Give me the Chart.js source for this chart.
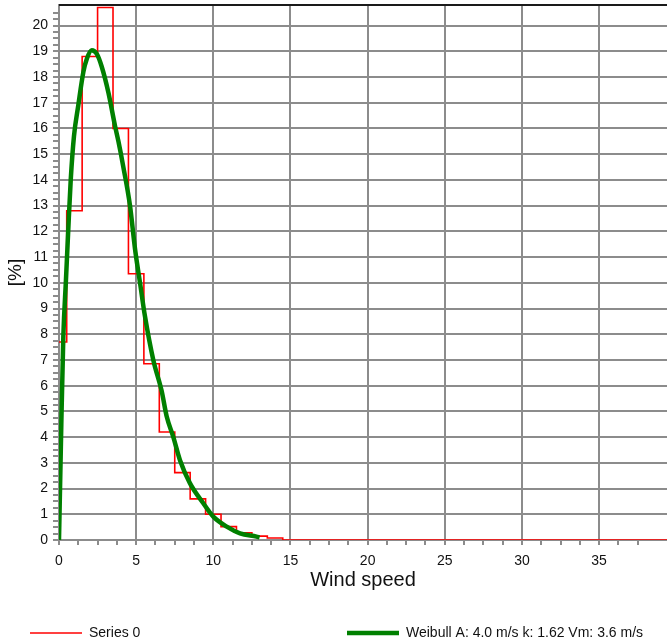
<!DOCTYPE html>
<html>
<head>
<meta charset="utf-8">
<script src="https://cdn.jsdelivr.net/npm/chart.js@4.4.1/dist/chart.umd.min.js"></script>
<style>
  html, body { margin: 0; padding: 0; background: #fff; }
  #wrap { width: 667px; height: 642px; position: relative; }
</style>
</head>
<body>
<div id="wrap"><canvas id="c"></canvas></div>
<script>
// histogram of measured wind speed, one bin per m/s (bin centre -> percent)
const binCenters = [0, 1, 2, 3, 4, 5, 6, 7, 8, 9, 10, 11, 12, 13, 14, 15, 16, 17, 18, 19, 20,
  21, 22, 23, 24, 25, 26, 27, 28, 29, 30, 31, 32, 33, 34, 35, 36, 37, 38, 39, 40];
const binPercent = [7.7, 12.8, 18.8, 20.7, 16.0, 10.35, 6.85, 4.2, 2.62, 1.6, 1.0, 0.52, 0.28, 0.15, 0.08, 0, 0, 0, 0, 0, 0,
  0, 0, 0, 0, 0, 0, 0, 0, 0, 0, 0, 0, 0, 0, 0, 0, 0, 0, 0, 0];

// fitted curve
const weibullSpeed = [0, 0.15, 0.28, 0.45, 0.6, 0.76, 0.97, 1.25, 1.58, 1.8, 2.12, 2.45, 2.77, 3.2, 3.63, 3.85,
  4.17, 4.6, 4.93, 5.25, 5.57, 6.11, 6.65, 6.98, 7.41, 7.84, 8.49, 9.35, 10.0, 10.87, 11.73, 12.8, 13.0];
const weibullPercent = [0, 4.5, 7.9, 10.1, 12.06, 14.0, 15.7, 16.9, 18.2, 18.7, 19.04, 18.9, 18.4, 17.4, 16.1, 15.5,
  14.5, 13.0, 11.3, 10.0, 8.7, 7.0, 5.8, 4.8, 4.0, 3.1, 2.2, 1.43, 0.91, 0.52, 0.26, 0.13, 0.1];

const seriesLabels = ['Series 0', 'Weibull A: 4.0 m/s k: 1.62 Vm: 3.6 m/s'];

const X_MAX = 39.4, Y_MAX = 20.8;
const GRID = '#8c8c8c';
const FONT = "'Liberation Sans', Arial, sans-serif";

const onStep = (v, step) => Math.abs(v / step - Math.round(v / step)) < 1e-6;

// top frame line + bottom legend drawn straight on the canvas
const framePlugin = {
  id: 'frame',
  afterDraw(chart){
    const { ctx, chartArea: a } = chart;
    ctx.save();
    ctx.strokeStyle = '#1a1a1a';
    ctx.lineWidth = 2;
    ctx.beginPath();
    ctx.moveTo(a.left, a.top);
    ctx.lineTo(a.right, a.top);
    ctx.stroke();

    const y = 633;
    const starts = [30, 347];
    ctx.font = '14px ' + FONT;
    ctx.textBaseline = 'middle';
    ctx.fillStyle = '#111';
    chart.data.datasets.forEach((ds, i) => {
      const x = starts[i];
      ctx.strokeStyle = ds.borderColor;
      ctx.lineWidth = ds.borderWidth;
      ctx.beginPath();
      ctx.moveTo(x, y);
      ctx.lineTo(x + 52, y);
      ctx.stroke();
      ctx.fillText(ds.label, x + 59, y);
    });
    ctx.restore();
  }
};

new Chart(document.getElementById('c'), {
  type: 'line',
  data: {
    datasets: [
      {
        label: seriesLabels[0],
        data: binCenters.map((x, i) => ({ x, y: binPercent[i] })),
        borderColor: '#ff0000',
        borderWidth: 1.6,
        stepped: 'middle',
        pointRadius: 0,
        fill: false,
        order: 2
      },
      {
        label: seriesLabels[1],
        data: weibullSpeed.map((x, i) => ({ x, y: weibullPercent[i] })),
        borderColor: '#008000',
        borderWidth: 4.5,
        cubicInterpolationMode: 'monotone',
        pointRadius: 0,
        fill: false,
        order: 1
      }
    ]
  },
  options: {
    responsive: true,
    maintainAspectRatio: false,
    animation: false,
    layout: { padding: { top: 5, right: 0, bottom: 50, left: 0 } },
    plugins: {
      legend: { display: false },
      tooltip: { enabled: false }
    },
    scales: {
      x: {
        type: 'linear',
        min: 0,
        max: X_MAX,
        afterFit: s => { s.height = 52; s.paddingLeft = 0; s.paddingRight = 0; },
        border: { color: GRID, width: 2 },
        grid: {
          lineWidth: 2,
          color: c => onStep(c.tick.value, 5) ? GRID : 'rgba(0,0,0,0)',
          tickColor: c => onStep(c.tick.value, 1.25) ? GRID : 'rgba(0,0,0,0)',
          tickLength: 5
        },
        ticks: {
          stepSize: 1.25,
          autoSkip: false,
          maxRotation: 0,
          padding: 8,
          color: '#111',
          font: { family: FONT, size: 14 },
          callback: v => onStep(v, 5) ? String(Math.round(v)) : ''
        },
        title: {
          display: true,
          text: 'Wind speed',
          color: '#111',
          font: { family: FONT, size: 20 },
          padding: { top: 0, bottom: 0 }
        }
      },
      y: {
        min: 0,
        max: Y_MAX,
        afterFit: s => { s.width = 59; s.paddingTop = 0; s.paddingBottom = 0; },
        border: { color: GRID, width: 2 },
        grid: {
          lineWidth: 2,
          color: c => onStep(c.tick.value, 1) ? GRID : 'rgba(0,0,0,0)',
          tickColor: c => onStep(c.tick.value, 0.25) ? GRID : 'rgba(0,0,0,0)',
          tickLength: 6
        },
        ticks: {
          stepSize: 0.25,
          autoSkip: false,
          maxTicksLimit: 500,
          padding: 5,
          color: '#111',
          font: { family: FONT, size: 14 },
          callback: v => onStep(v, 1) ? String(Math.round(v)) : ''
        },
        title: {
          display: true,
          text: '[%]',
          color: '#111',
          font: { family: FONT, size: 19 },
          padding: { top: 4, bottom: 0 }
        }
      }
    }
  },
  plugins: [framePlugin]
});
</script>
</body>
</html>
